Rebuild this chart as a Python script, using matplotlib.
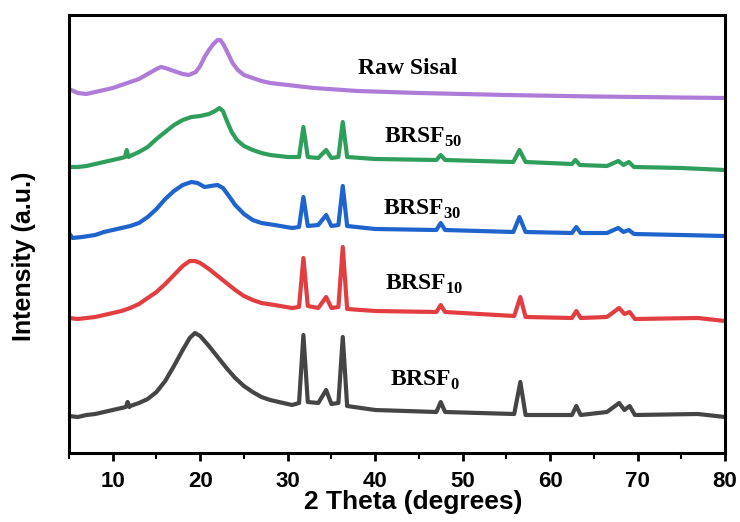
import matplotlib
matplotlib.use("Agg")
import matplotlib.pyplot as plt
from matplotlib.ticker import MultipleLocator

# XRD patterns (2-theta in degrees, stacked intensity in a.u.)
raw_tt = [5, 6, 7, 8, 9, 10, 11, 12, 13, 14, 15, 15.5, 16, 17, 18, 18.7, 19.5, 20, 20.5,
          21, 21.5, 22, 22.3, 22.7, 23.2, 23.7, 24.3, 25, 26, 27, 28, 30, 33, 38, 45,
          55, 65, 80]
raw_i = [364, 360, 359, 361, 363, 365, 368, 371, 374, 379, 384, 386, 385, 382, 379, 378,
         381, 387, 396, 403, 409, 413, 413, 408, 399, 390, 383, 378, 375, 372, 370, 368,
         365, 362, 360, 358, 356.5, 355]

b50_tt = [5, 6, 7, 8, 9, 10, 11, 11.4, 11.6, 11.8, 12, 13, 14, 15, 16, 17, 18, 19, 20,
          21, 21.7, 22.2, 22.6, 23.1, 23.6, 24.2, 25, 26, 27, 28, 30, 31.3, 31.8, 32.3,
          33.5, 34.4, 35.0, 35.8, 36.3, 36.8, 40.0, 47.0, 47.5, 48.0, 55.8, 56.5, 57.2,
          62.5, 62.9, 63.4, 66.5, 67.8, 68.4, 69.0, 69.6, 75.0, 80.0]
b50_i = [286, 286, 287, 289, 291, 293, 295, 296, 303, 296, 297, 301, 306, 314, 321, 328,
         333, 336, 337, 339, 342, 345, 342, 331, 321, 313, 307, 303, 300, 298, 296, 296,
         326, 296, 295, 303, 295, 296, 331, 296, 294, 293, 298, 293, 291, 303, 291, 289,
         293, 288, 287, 292, 288, 291, 286, 285, 283]

b30_tt = [5, 5.4, 6.5, 8, 9, 10, 11, 12, 13, 14, 15, 16, 17, 18, 19, 19.7, 20.5, 21.2,
          22, 22.6, 23.2, 24, 25, 26, 27, 28.5, 30.5, 31.3, 31.8, 32.3, 33.5, 34.4, 35.0,
          35.8, 36.3, 36.8, 40.0, 47.0, 47.5, 48.0, 55.8, 56.5, 57.2, 62.5, 63.0, 63.5,
          66.5, 67.8, 68.4, 69.0, 69.6, 75.0, 80.0]
b30_i = [220, 215, 216, 218, 221, 223, 225, 227, 230, 236, 244, 254, 262, 268, 271, 270,
         266, 267, 268, 265, 258, 248, 239, 233, 230, 228, 225, 226, 256, 227, 228, 238,
         227, 228, 267, 227, 224, 223, 230, 223, 221, 236, 221, 220, 226, 220, 220, 225,
         221, 223, 219, 218, 217]

b10_tt = [5, 6, 7, 8, 9, 10, 11, 12, 13, 14, 15, 16, 17, 18, 18.8, 19.4, 20, 21, 22, 23,
          24, 25, 26, 27, 28.5, 30.5, 31.3, 31.8, 32.3, 33.5, 34.4, 35.0, 35.8, 36.3, 36.8,
          40.0, 47.0, 47.5, 48.0, 55.9, 56.6, 57.2, 62.5, 63.0, 63.5, 66.5, 67.9, 68.5,
          69.1, 69.7, 76.9, 80.0]
b10_i = [135, 134, 135, 136, 138, 140, 142, 145, 149, 155, 161, 169, 178, 187, 192, 192,
         190, 184, 177, 170, 163, 157, 153, 150, 148, 145, 146, 195, 147, 145, 156, 145,
         146, 206, 144, 142, 141, 148, 141, 137, 156, 136, 135, 142, 135, 136, 145, 139,
         141, 134, 135, 132]

b0_tt = [5, 6, 7, 8, 9, 10, 11, 11.5, 11.7, 11.9, 12, 13, 14, 15, 16, 17, 18, 18.8, 19.4,
         20, 21, 22, 23, 24, 25, 26, 27, 28, 29, 30.5, 31.3, 31.8, 32.3, 33.5, 34.4, 35.0,
         35.8, 36.3, 36.8, 40.0, 47.0, 47.5, 48.0, 55.9, 56.6, 57.2, 62.5, 63.0, 63.5,
         66.5, 67.9, 68.5, 69.1, 69.7, 76.9, 80.0]
b0_i = [37, 36, 38, 39, 41, 43, 45, 46, 51, 46, 47, 50, 54, 61, 72, 87, 103, 115, 120,
        117, 107, 96, 85, 75, 67, 61, 56, 53, 51, 48, 50, 118, 51, 50, 63, 49, 50, 116,
        47, 43, 41, 51, 41, 39, 71, 38, 38, 47, 38, 41, 50, 43, 47, 38, 39, 36]

series = [
    (b0_tt, b0_i, "#454545", r"BRSF$_{\mathbf{0}}$", 41.65, 73),
    (b10_tt, b10_i, "#E23E42", r"BRSF$_{\mathbf{10}}$", 41.1, 169),
    (b30_tt, b30_i, "#1F63CC", r"BRSF$_{\mathbf{30}}$", 40.85, 244),
    (b50_tt, b50_i, "#2F9E5C", r"BRSF$_{\mathbf{50}}$", 41.0, 316),
    (raw_tt, raw_i, "#AE7BD8", "Raw Sisal", 38.0, 384),
]

plt.rcParams["mathtext.fontset"] = "custom"
plt.rcParams["mathtext.rm"] = "Liberation Serif:bold"
plt.rcParams["mathtext.bf"] = "Liberation Serif:bold"

fig = plt.figure(figsize=(7.40, 5.22), dpi=100)
ax = fig.add_axes([69 / 740, 1 - 453 / 522, (725 - 69) / 740, (453 - 15) / 522])

for tt, inten, color, label, lx, ly in series:
    ax.plot(tt, inten, color=color, lw=3.0, solid_joinstyle="round", solid_capstyle="round")
    ax.text(lx, ly, label, ha="left", va="center", fontsize=17,
            family="Liberation Serif", fontweight="bold", color="black")

ax.set_xlim(5, 80)
ax.set_ylim(0, 438)
ax.xaxis.set_major_locator(MultipleLocator(10))
ax.xaxis.set_minor_locator(MultipleLocator(5))
ax.set_yticks([])
for s in ax.spines.values():
    s.set_linewidth(2.2)
ax.tick_params(axis="x", which="major", direction="out", length=6, width=2,
               labelsize=16, pad=7)
ax.tick_params(axis="x", which="minor", direction="out", length=4, width=1.5)
for lab in ax.get_xticklabels():
    lab.set_fontweight("bold")
    lab.set_family("Liberation Sans")

ax.set_xlabel("2 Theta (degrees)", fontsize=19, fontweight="bold",
              family="Liberation Sans")
ax.xaxis.set_label_coords(0.525, -0.085)
ax.set_ylabel("Intensity (a.u.)", fontsize=18, fontweight="bold",
              family="Liberation Sans")
ax.yaxis.set_label_coords(-0.05, 0.45)

fig.savefig("out.png", dpi=100)
